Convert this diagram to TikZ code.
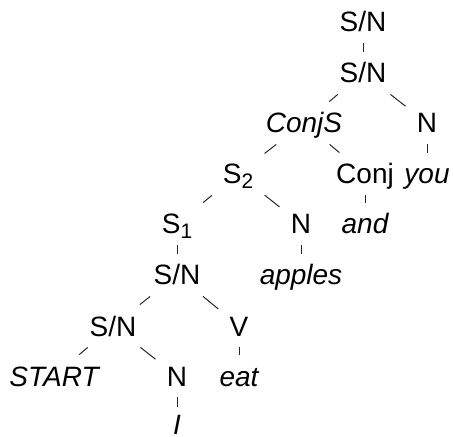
\documentclass[tikz,border=0pt]{standalone}
\usepackage{fontspec}
\setmainfont{Liberation Sans}
\newcommand{\lowidx}[1]{\raisebox{-2.5pt}{\fontsize{10.5}{10.5}\selectfont #1}}
\tikzset{
  cat/.style={font=\fontsize{14}{14}\selectfont, text height=10pt, text depth=0pt, inner sep=5.5pt},
  word/.style={cat, font=\fontsize{14}{14}\selectfont\itshape},
  edge/.style={line width=0.5pt, black!85}
}
\begin{document}
\begin{tikzpicture}[x=0.5pt,y=-0.5pt]
\useasboundingbox (0,0) rectangle (453,437);
% Categories and words
\node[cat] (sn0) at (363,22) {S/N};
\node[cat] (sn1) at (363,73) {S/N};
\node[word] (conjs) at (304,123) {ConjS};
\node[cat] (nyou) at (427,123) {N};
\node[cat] (s2) at (238,174) {S\lowidx{2}};
\node[cat] (conj) at (365,174) {Conj};
\node[word] (you) at (427,174) {you};
\node[cat] (s1) at (177,224) {S\lowidx{1}};
\node[cat] (nap) at (301,224) {N};
\node[word] (and) at (365,224) {and};
\node[cat] (sn2) at (177,275) {S/N};
\node[word] (apples) at (301,275) {apples};
\node[cat] (sn3) at (113,326) {S/N};
\node[cat] (v) at (239,326) {V};
\node[word] (start) at (54,376) {START};
\node[cat] (ni) at (177,376) {N};
\node[word] (eat) at (239,376) {eat};
\node[word, inner ysep=1pt] (i) at (177,424) {I};

% Branches
\foreach \a/\b in {sn0/sn1, sn1/conjs, sn1/nyou, nyou/you, conjs/s2, conjs/conj,
  conj/and, s2/s1, s2/nap, nap/apples, s1/sn2, sn2/sn3, sn2/v, v/eat,
  sn3/start, sn3/ni}
  \draw[edge] (\a) -- (\b);
\draw[edge, shorten >=2.5pt] (ni) -- (i);
\end{tikzpicture}
\end{document}
